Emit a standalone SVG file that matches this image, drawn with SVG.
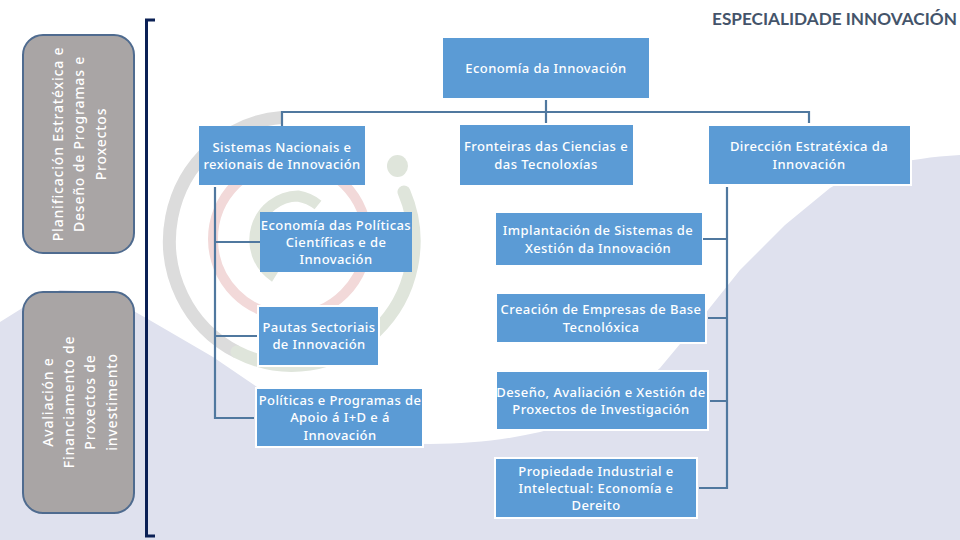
<svg xmlns="http://www.w3.org/2000/svg" width="960" height="540" viewBox="0 0 960 540">
<style>
text{font-family:"Noto Sans","Open Sans",sans-serif;font-size:13px;font-weight:500;fill:#fff;text-anchor:middle;letter-spacing:.42px}
.s{font-size:14px;letter-spacing:.8px}
.b{fill:#5b9bd5}
.w{stroke:#fff;stroke-width:2}
.c{fill:none;stroke:#50789f;stroke-width:2.2}
.g{fill:#a9a5a5;stroke:#4f6b8f;stroke-width:2}
.r{fill:none}
</style>
<rect width="960" height="540" fill="#fff"/>
<path d="M0 322L24 307L60 290L100 292L146 318L213 357L257 387C300 412 360 444 430 444C470 444 505 440 540 432C585 420 625 400 660 368L700 320L740 270L785 225L830 188C860 170 905 158 960 155V540H0Z" fill="#dfe1ee"/>
<g id="logo" class="r">
<path d="M282 117.400A122 124 0 0 0 237 352" stroke="#dcdcdc" stroke-width="13"/>
<path d="M237 352A122 124 0 0 0 404 192" stroke="#dfe5db" stroke-width="13" stroke-linecap="round"/>
<circle cx="290" cy="239" r="77" stroke="#f2d9d9" stroke-width="10"/>
<path d="M318 205A44 44 0 0 0 298 196A44 44 0 0 0 275 277" stroke="#dfe5db" stroke-width="11"/>
<ellipse cx="397.500" cy="166" rx="10.500" ry="11" fill="#dfe5db"/>
</g>
<g id="connectors">
<path class="c" d="M282 126V112H809V123M546 100V123"/>
<path class="c" d="M215 187V418H254M215 242H260M215 336H257"/>
<path class="c" d="M727 187V488H699M703 239H727M708 318H727M710 401H727"/>
<path d="M155 20H146.500V536H155" fill="none" stroke="#0b2055" stroke-width="3"/>
</g>
<g id="title"><text x="834.500" y="25" style="font-family:'Lato','Liberation Sans',sans-serif;font-size:17.200px;font-weight:700;fill:#44546a;letter-spacing:0">ESPECIALIDADE INNOVACIÓN</text></g>
<g id="side1"><rect class="g" x="23" y="35" width="111" height="218" rx="20"/>
<text class="s" transform="translate(63 144) rotate(-90)">Planificación Estratéxica e</text><text class="s" transform="translate(84 144) rotate(-90)">Deseño de Programas e</text><text class="s" transform="translate(106 144) rotate(-90)">Proxectos</text></g>
<g id="side2"><rect class="g" x="23" y="292" width="111" height="221" rx="20"/>
<text class="s" transform="translate(53 402) rotate(-90)">Avaliación e</text><text class="s" transform="translate(74 402) rotate(-90)">Financiamento de</text><text class="s" transform="translate(95 402) rotate(-90)">Proxectos de</text><text class="s" transform="translate(117 402) rotate(-90)">investimento</text></g>
<g id="n1"><rect class="b" x="443" y="38" width="206" height="60"/><text x="546" y="73">Economía da Innovación</text></g>
<g id="n2"><rect class="b" x="199" y="126" width="166" height="59"/><text x="282" y="152">Sistemas Nacionais e</text><text x="282" y="169">rexionais de Innovación</text></g>
<g id="n3"><rect class="b" x="460" y="125" width="173" height="60"/><text x="546" y="151">Fronteiras das Ciencias e</text><text x="546" y="169">das Tecnoloxías</text></g>
<g id="n4"><rect class="b w" x="708" y="125" width="203" height="60"/><text x="809" y="151">Dirección Estratéxica da</text><text x="809" y="169">Innovación</text></g>
<g id="n5"><rect class="b" x="260" y="212" width="152" height="60"/><text x="336" y="230">Economía das Políticas</text><text x="336" y="247">Científicas e de</text><text x="336" y="264">Innovación</text></g>
<g id="n6"><rect class="b" x="496" y="213" width="206" height="52"/><text x="598" y="235">Implantación de Sistemas de</text><text x="598" y="253">Xestión da Innovación</text></g>
<g id="n7"><rect class="b w" x="258" y="306" width="121" height="60"/><text x="319" y="332">Pautas Sectoriais</text><text x="319" y="349">de Innovación</text></g>
<g id="n8"><rect class="b w" x="256" y="388" width="167" height="59"/><text x="340" y="405">Políticas e Programas de</text><text x="340" y="422">Apoio á I+D e á</text><text x="340" y="440">Innovación</text></g>
<g id="n9"><rect class="b w" x="496" y="293" width="210" height="50"/><text x="601" y="314">Creación de Empresas de Base</text><text x="601" y="332">Tecnolóxica</text></g>
<g id="n10"><rect class="b w" x="496" y="371" width="212" height="59"/><text x="601" y="397">Deseño, Avaliación e Xestión de</text><text x="601" y="414">Proxectos de Investigación</text></g>
<g id="n11"><rect class="b w" x="495" y="458" width="202" height="60"/><text x="596" y="476">Propiedade Industrial e</text><text x="596" y="493">Intelectual: Economía e</text><text x="596" y="510">Dereito</text></g>
</svg>
